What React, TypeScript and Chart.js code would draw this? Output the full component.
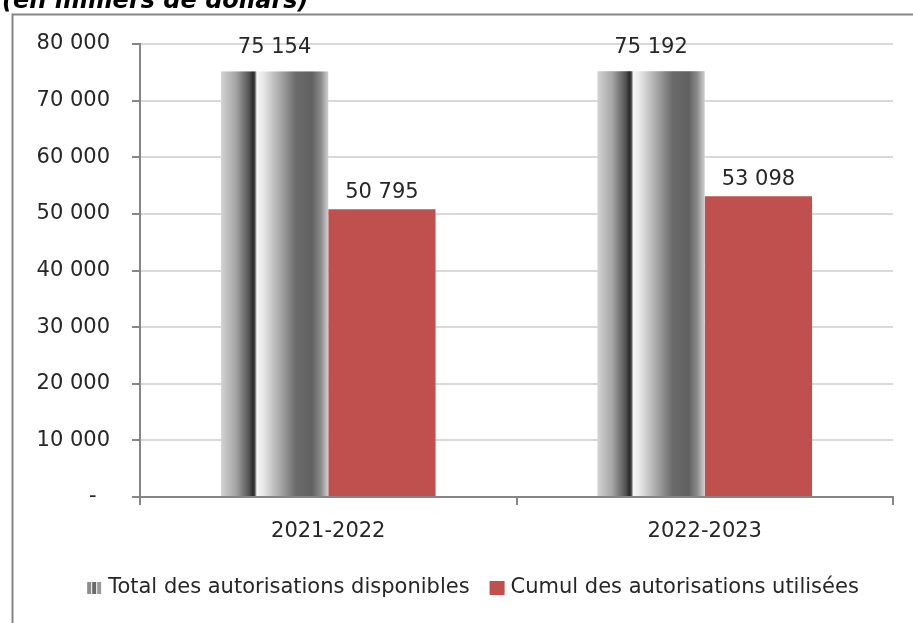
import React, { useEffect, useRef } from 'react';
import { Chart, registerables } from 'chart.js';

Chart.register(...registerables);

// ---- data ----
const CATEGORIES = ['2021-2022', '2022-2023'];
const TOTAL_DISPONIBLES = [75154, 75192];
const CUMUL_UTILISEES = [50795, 53098];
const SERIES_NAMES = ['Total des autorisations disponibles', 'Cumul des autorisations utilisées'];
const Y_MIN = 0;
const Y_MAX = 80000;
const Y_STEP = 10000;
const TITLE = '(en milliers de dollars)';

// ---- styles ----
const FONT_FAMILY = '"DejaVu Sans", sans-serif';
const TEXT_COLOR = '#262626';
const RED = '#C0504D';
const AXIS_COLOR = '#868686';
const GRID_COLOR = '#d9d9d9';

const GRAY_STOPS: [number, string][] = [
  [0, '#d4d4d4'],
  [0.14, '#a4a4a4'],
  [0.26, '#555555'],
  [0.3, '#2a2a2a'],
  [0.315, '#444444'],
  [0.335, '#f6f6f6'],
  [0.4, '#e6e6e6'],
  [0.55, '#a8a8a8'],
  [0.7, '#6a6a6a'],
  [0.85, '#616161'],
  [0.93, '#8a8a8a'],
  [1, '#d0d0d0'],
];

function fmt(v: number): string {
  if (v === 0) return '-  ';
  return String(Math.round(v)).replace(/\B(?=(\d{3})+(?!\d))/g, ' ');
}

function grayGradient(ctx: CanvasRenderingContext2D, x0: number, x1: number) {
  const g = ctx.createLinearGradient(x0, 0, x1, 0);
  GRAY_STOPS.forEach(([o, c]) => g.addColorStop(o, c));
  return g;
}

const framePlugin = {
  id: 'frameTitle',
  beforeDraw(chart: any) {
    const ctx = chart.ctx as CanvasRenderingContext2D;
    ctx.save();
    ctx.fillStyle = '#ffffff';
    ctx.fillRect(0, 0, chart.width, chart.height);
    ctx.strokeStyle = '#868686';
    ctx.lineWidth = 2;
    ctx.beginPath();
    ctx.moveTo(12.5, chart.height + 2);
    ctx.lineTo(12.5, 14.5);
    ctx.lineTo(chart.width + 2, 14.5);
    ctx.stroke();
    ctx.fillStyle = '#000000';
    ctx.font = `italic bold 24px ${FONT_FAMILY}`;
    ctx.textBaseline = 'alphabetic';
    ctx.textAlign = 'left';
    ctx.fillText(TITLE, 2, 8);
    ctx.restore();
  },
};

const grayBarsPlugin = {
  id: 'grayBars',
  afterDatasetsDraw(chart: any) {
    const ctx = chart.ctx as CanvasRenderingContext2D;
    const meta = chart.getDatasetMeta(0);
    ctx.save();
    meta.data.forEach((el: any) => {
      const { x, y, base, width } = el.getProps(['x', 'y', 'base', 'width'], true);
      const left = x - width / 2;
      const right = x + width / 2;
      ctx.fillStyle = grayGradient(ctx, left, right);
      ctx.fillRect(left, Math.min(y, base), width, Math.abs(base - y));
    });
    ctx.restore();
  },
};

const LABEL_OFFSETS = [24, 17];

const valueLabelsPlugin = {
  id: 'valueLabels',
  afterDatasetsDraw(chart: any) {
    const ctx = chart.ctx as CanvasRenderingContext2D;
    ctx.save();
    ctx.font = `21px ${FONT_FAMILY}`;
    ctx.fillStyle = TEXT_COLOR;
    ctx.textAlign = 'center';
    ctx.textBaseline = 'middle';
    chart.data.datasets.forEach((ds: any, di: number) => {
      const meta = chart.getDatasetMeta(di);
      meta.data.forEach((el: any, i: number) => {
        const { x, y } = el.getProps(['x', 'y'], true);
        ctx.fillText(fmt(ds.data[i]), x, y - LABEL_OFFSETS[di]);
      });
    });
    ctx.restore();
  },
};

const legendPlugin = {
  id: 'customLegend',
  afterDraw(chart: any) {
    const ctx = chart.ctx as CanvasRenderingContext2D;
    ctx.save();
    ctx.font = `21px ${FONT_FAMILY}`;
    ctx.textBaseline = 'middle';
    ctx.textAlign = 'left';
    const boxW = 15;
    const gap = 6;
    const itemGap = 20;
    const widths = SERIES_NAMES.map((n) => ctx.measureText(n).width);
    const total = widths.reduce((a, w) => a + boxW + gap + w, 0) + itemGap * (SERIES_NAMES.length - 1);
    const centerX = 473;
    const cy = chart.height - 35;
    let x = centerX - total / 2;
    SERIES_NAMES.forEach((name, i) => {
      if (i === 0) {
        const cols = ['#8c8c8c', '#6a6a6a', '#9a9a9a'];
        cols.forEach((c, k) => {
          ctx.fillStyle = c;
          ctx.fillRect(x + k * 5, cy - 6, 4, 12);
        });
      } else {
        ctx.fillStyle = RED;
        ctx.fillRect(x, cy - 7, boxW, 14);
      }
      ctx.fillStyle = TEXT_COLOR;
      ctx.fillText(name, x + boxW + gap, cy);
      x += boxW + gap + widths[i] + itemGap;
    });
    ctx.restore();
  },
};

export default function App() {
  const canvasRef = useRef<HTMLCanvasElement | null>(null);

  useEffect(() => {
    const canvas = canvasRef.current;
    if (!canvas) return;
    const chart = new Chart(canvas, {
      type: 'bar',
      data: {
        labels: CATEGORIES,
        datasets: [
          {
            label: SERIES_NAMES[0],
            data: TOTAL_DISPONIBLES,
            backgroundColor: 'rgba(0,0,0,0)',
            borderWidth: 0,
            categoryPercentage: 0.57,
            barPercentage: 1,
          },
          {
            label: SERIES_NAMES[1],
            data: CUMUL_UTILISEES,
            backgroundColor: RED,
            borderWidth: 0,
            categoryPercentage: 0.57,
            barPercentage: 1,
          },
        ],
      },
      options: {
        responsive: false,
        animation: false,
        devicePixelRatio: 1,
        layout: { padding: { left: 12, right: 20, top: 44, bottom: 79 } },
        plugins: {
          legend: { display: false },
          title: { display: false },
          tooltip: { enabled: false },
        },
        scales: {
          x: {
            grid: {
              drawOnChartArea: false,
              drawTicks: true,
              tickLength: 8,
              color: AXIS_COLOR,
              tickColor: AXIS_COLOR,
              lineWidth: 2,
              tickWidth: 2,
            },
            border: { display: true, color: AXIS_COLOR, width: 2 },
            ticks: {
              color: TEXT_COLOR,
              font: { family: FONT_FAMILY, size: 21 },
              padding: 14,
            },
            afterFit: (scale: any) => {
              scale.height = 47;
            },
          },
          y: {
            min: Y_MIN,
            max: Y_MAX,
            grid: {
              color: (c: any) => (c.tick && c.tick.value === 0 ? AXIS_COLOR : GRID_COLOR),
              lineWidth: 2,
              tickLength: 8,
              tickColor: AXIS_COLOR,
              tickWidth: 2,
            },
            border: { display: true, color: AXIS_COLOR, width: 2 },
            ticks: {
              stepSize: Y_STEP,
              color: TEXT_COLOR,
              font: { family: FONT_FAMILY, size: 21 },
              padding: 22,
              callback: (v: any) => fmt(Number(v)),
            },
            afterFit: (scale: any) => {
              scale.width = 128;
            },
          },
        },
      },
      plugins: [framePlugin, grayBarsPlugin, valueLabelsPlugin, legendPlugin],
    });
    return () => chart.destroy();
  }, []);

  return (
    <div style={{ position: 'fixed', left: 0, top: 0, width: 913, height: 623, background: '#fff' }}>
      <canvas ref={canvasRef} width={913} height={623} style={{ display: 'block', width: 913, height: 623 }} />
    </div>
  );
}
